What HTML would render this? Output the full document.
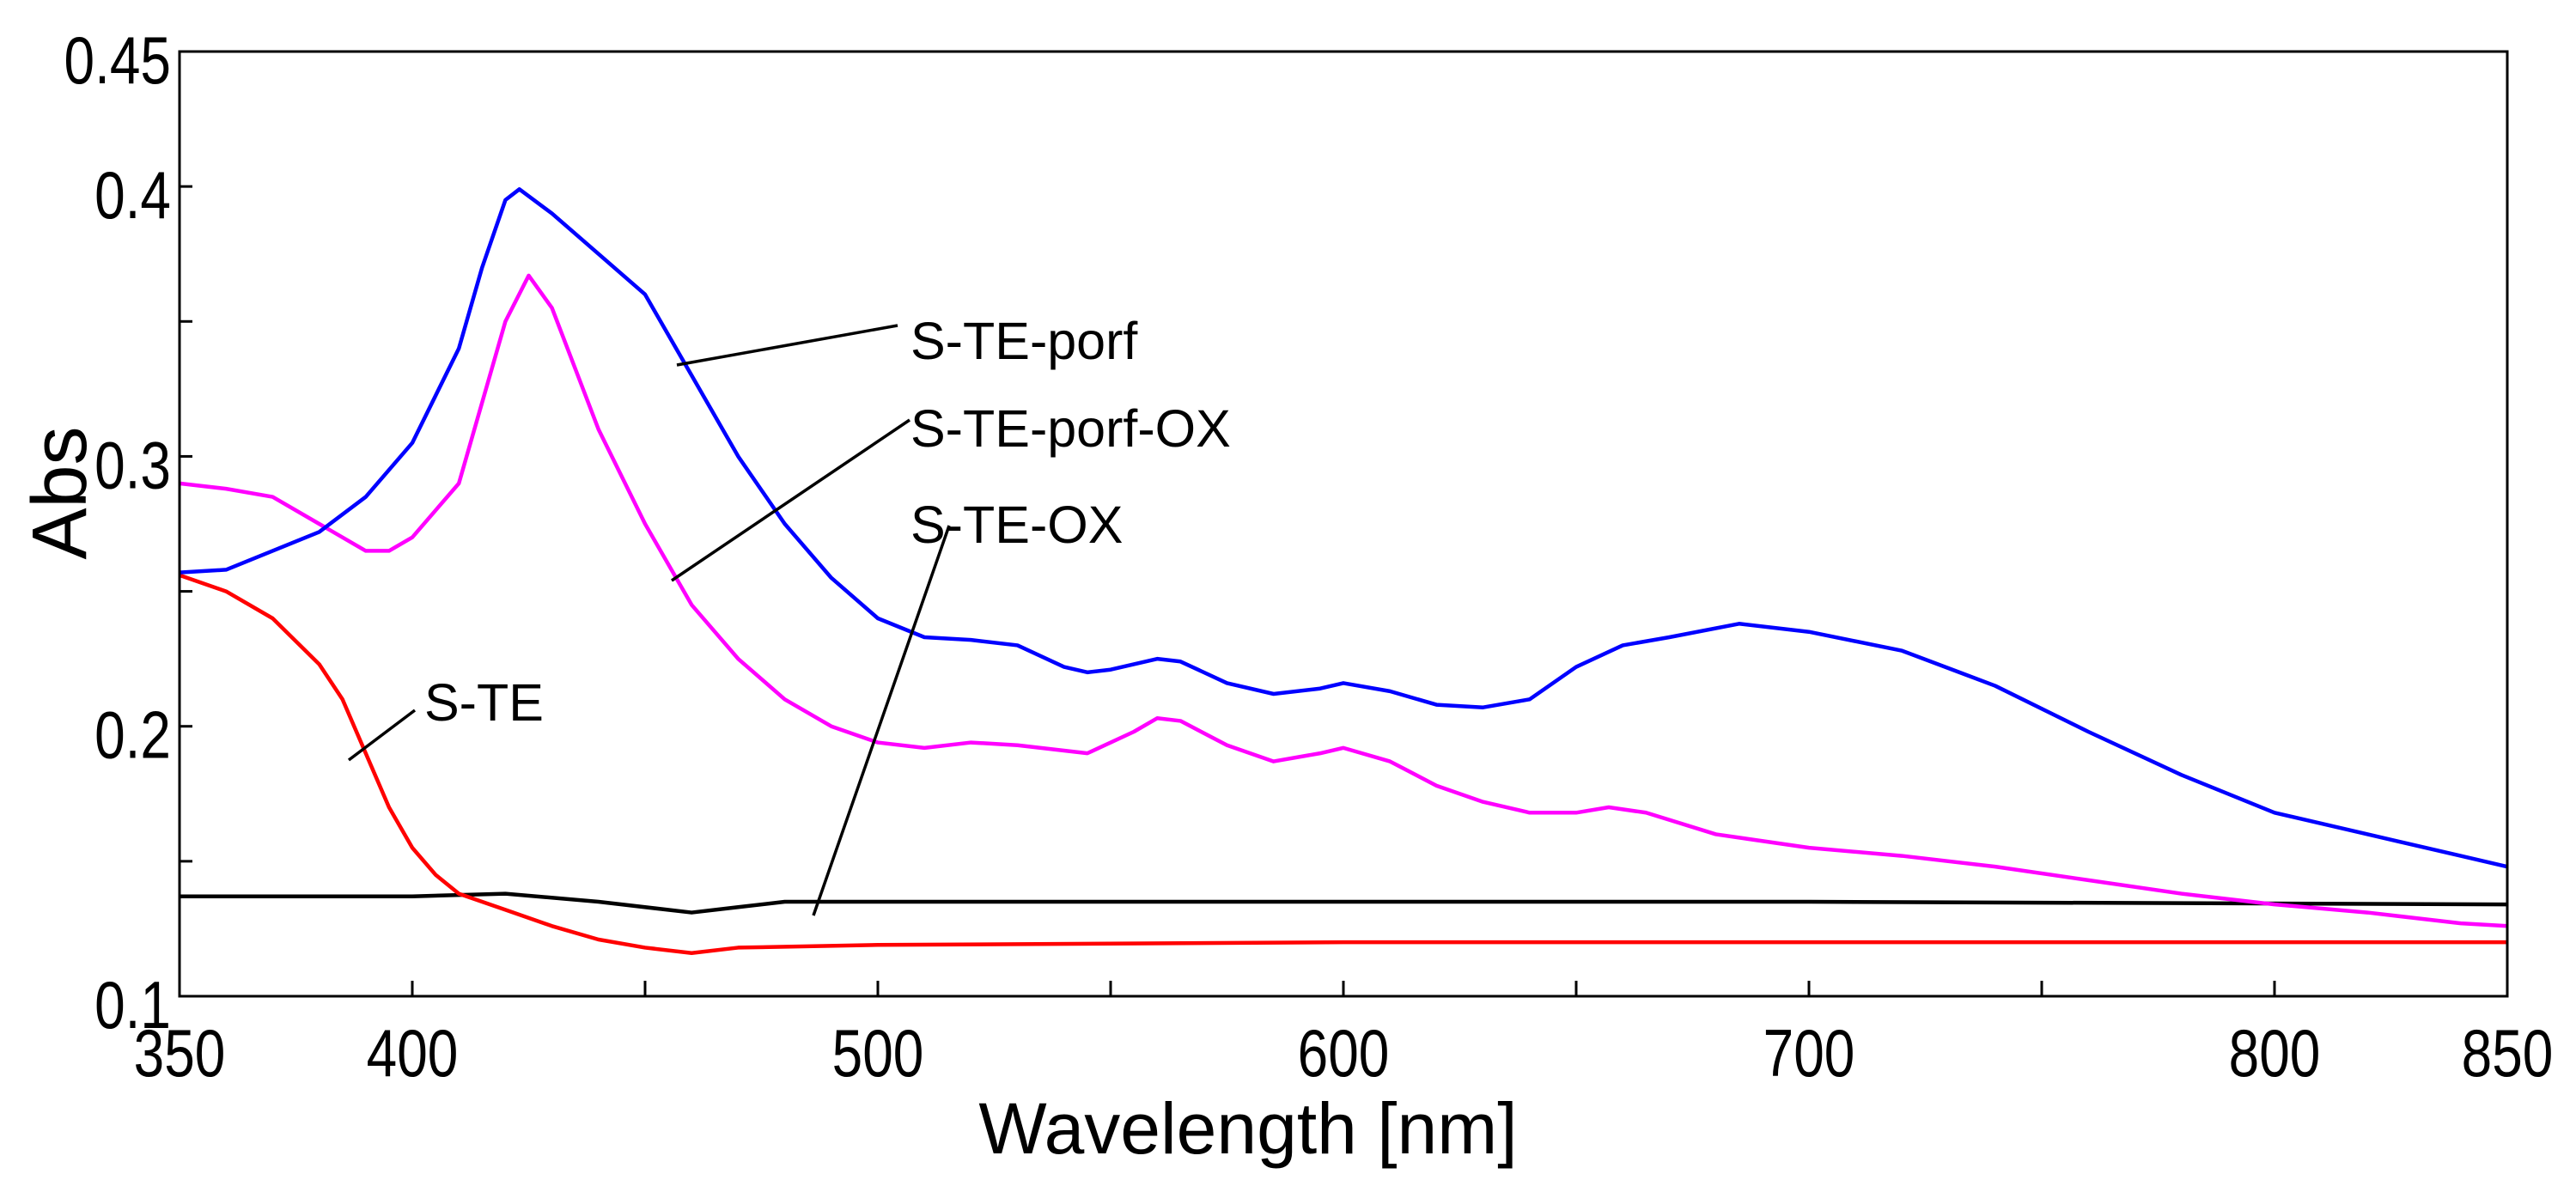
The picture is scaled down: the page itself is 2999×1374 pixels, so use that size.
<!DOCTYPE html>
<html><head><meta charset="utf-8"><style>
html,body{margin:0;padding:0;background:#fff;}
svg{display:block;}
text{font-family:"Liberation Sans",sans-serif;fill:#000;}
</style></head><body>
<svg id="chart" width="2999" height="1374" viewBox="0 0 2999 1374" xmlns="http://www.w3.org/2000/svg">
<g id="plot"></g>
</svg>
<script>
const xTicks=[350,400,450,500,550,600,650,700,750,800,850];
const xTickLabels=["350","400","","500","","600","","700","","800","850"];
const yTicks=[0.1,0.15,0.2,0.25,0.3,0.35,0.4,0.45];
const yTickLabels=["0.1","","0.2","","0.3","","0.4","0.45"];
const blueX=[350,360,370,380,390,400,410,415,420,423,430,440,450,455,460,470,480,490,500,510,520,530,540,545,550,560,565,575,585,595,600,610,620,630,640,650,660,670,685,700,720,740,760,780,800,820,840,850];
const blueY=[0.257,0.258,0.265,0.272,0.285,0.305,0.34,0.37,0.395,0.399,0.39,0.375,0.36,0.345,0.33,0.3,0.275,0.255,0.24,0.233,0.232,0.23,0.222,0.22,0.221,0.225,0.224,0.216,0.212,0.214,0.216,0.213,0.208,0.207,0.21,0.222,0.23,0.233,0.238,0.235,0.228,0.215,0.198,0.182,0.168,0.16,0.152,0.148];
const magX=[350,360,370,380,390,395,400,410,415,420,425,430,440,450,460,470,480,490,500,510,520,530,545,555,560,565,575,585,595,600,610,620,630,640,650,657,665,680,700,720,740,760,780,800,820,840,850];
const magY=[0.29,0.288,0.285,0.275,0.265,0.265,0.27,0.29,0.32,0.35,0.367,0.355,0.31,0.275,0.245,0.225,0.21,0.2,0.194,0.192,0.194,0.193,0.19,0.198,0.203,0.202,0.193,0.187,0.19,0.192,0.187,0.178,0.172,0.168,0.168,0.17,0.168,0.16,0.155,0.152,0.148,0.143,0.138,0.134,0.131,0.127,0.126];
const redX=[350,360,370,380,385,390,395,400,405,410,420,430,440,450,460,470,500,600,700,850];
const redY=[0.256,0.25,0.24,0.223,0.21,0.19,0.17,0.155,0.145,0.138,0.132,0.126,0.121,0.118,0.116,0.118,0.119,0.12,0.12,0.12];
const blackX=[350,400,420,440,460,470,480,500,600,700,850];
const blackY=[0.137,0.137,0.138,0.135,0.131,0.133,0.135,0.135,0.135,0.135,0.134];

const L=209,R=2919,T=60,B=1160;
const sx=v=>L+(v-350)/500*(R-L);
const sy=v=>B-(v-0.1)/0.35*(B-T);
const NS="http://www.w3.org/2000/svg";
const g=document.getElementById('plot');
function mk(tag,attrs,parent){const e=document.createElementNS(NS,tag);for(const k in attrs)e.setAttribute(k,attrs[k]);(parent||g).appendChild(e);return e;}

function series(xs,ys,color,name){
  const p=mk('polyline',{points:xs.map((x,i)=>sx(x)+','+sy(ys[i])).join(' '),fill:'none',stroke:color,'stroke-width':4.5,'stroke-linejoin':'round'});
  
  
}
series(blackX,blackY,'#000','series-s-te-ox');
series(redX,redY,'#ff0000','series-s-te');
series(magX,magY,'#ff00ff','series-s-te-porf-ox');
series(blueX,blueY,'#0000ff','series-s-te-porf');

const frame=mk('rect',{x:L,y:T,width:R-L,height:B-T,fill:'none',stroke:'#000','stroke-width':3});



xTicks.forEach((v,i)=>{
  const t=mk('line',{x1:sx(v),x2:sx(v),y1:B,y2:B-18,stroke:'#000','stroke-width':3});
  
  
  if(xTickLabels[i]){
    const tx=mk('text',{x:0,y:0,'font-size':78,'text-anchor':'middle',transform:`translate(${sx(v)},1253) scale(0.82,1)`});
    tx.textContent=xTickLabels[i];
    
    
  }
});
yTicks.forEach((v,i)=>{
  const t=mk('line',{x1:L,x2:L+15,y1:sy(v),y2:sy(v),stroke:'#000','stroke-width':3});
  
  
  if(yTickLabels[i]){
    const tx=mk('text',{x:0,y:0,'font-size':78,'text-anchor':'end',transform:`translate(199,${sy(v)+37}) scale(0.82,1)`});
    tx.textContent=yTickLabels[i];
    
    
  }
});

const labels=[["S-TE-porf",1060,396,788,425,1045,379],["S-TE-porf-OX",1060,498,782,676,1059,489],["S-TE-OX",1060,610,947,1066,1105,612],["S-TE",494,817,406,885,483,827]];
labels.forEach(a=>{
  const ln=mk('line',{x1:a[3],y1:a[4],x2:a[5],y2:a[6],stroke:'#000','stroke-width':3.5});
  
  
  const tx=mk('text',{x:a[1],y:a[2]+22,'font-size':61});
  tx.textContent=a[0];
  
  
});

const xt=mk('text',{x:1453,y:1343,'font-size':84,'text-anchor':'middle'});
xt.textContent='Wavelength [nm]';


const yt=mk('text',{x:0,y:0,'font-size':90,'text-anchor':'middle',transform:'translate(100,574) rotate(-90)'});
yt.textContent='Abs';


</script>
</body></html>
